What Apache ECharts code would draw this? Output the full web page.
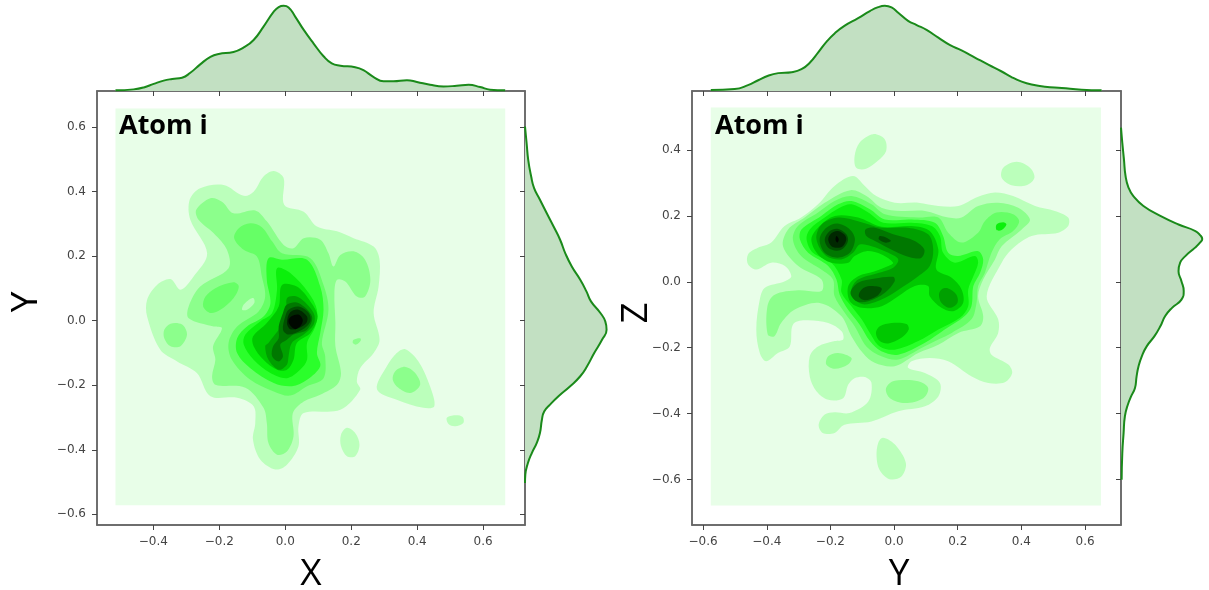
<!DOCTYPE html>
<html><head><meta charset="utf-8">
<style>html,body{margin:0;padding:0;background:#fff}#main{width:1209px;height:590px}</style>
<script src="https://cdn.jsdelivr.net/npm/echarts@6/dist/echarts.min.js"></script>
</head><body><div id="main"></div>
<script>
// Tick labels
const xTicksA=[-0.4,-0.2,0,0.2,0.4,0.6];
const yTicksA=[-0.6,-0.4,-0.2,0,0.2,0.4,0.6];
const xTicksB=[-0.6,-0.4,-0.2,0,0.2,0.4,0.6];
const yTicksB=[-0.6,-0.4,-0.2,0,0.2,0.4];
// Marginal densities
const topA=[[-.515,.02],[-.46,.05],[-.429,.11],[-.399,.22],[-.369,.32],[-.343,.37],[-.313,.41],[-.288,.56],[-.258,.82],[-.227,1.05],[-.202,1.14],[-.157,1.2],[-.126,1.34],[-.096,1.57],[-.066,1.98],[-.035,2.44],[-.02,2.58],[-.005,2.62],[.01,2.57],[.03,2.29],[.056,1.88],[.086,1.46],[.116,1.07],[.141,.85],[.167,.78],[.212,.73],[.237,.64],[.268,.43],[.298,.3],[.328,.3],[.369,.33],[.399,.28],[.439,.19],[.48,.14],[.52,.16],[.556,.19],[.591,.12],[.621,.04],[.667,.02]];
const sideA=[[.602,0],[.55,.05],[.498,.1],[.447,.19],[.411,.28],[.375,.46],[.333,.67],[.292,.88],[.251,1.08],[.209,1.24],[.168,1.44],[.127,1.7],[.091,1.89],[.06,2.03],[.024,2.32],[-.002,2.47],[-.028,2.51],[-.059,2.37],[-.1,2.13],[-.141,1.91],[-.172,1.7],[-.203,1.39],[-.234,1.03],[-.26,.77],[-.281,.59],[-.307,.52],[-.348,.46],[-.379,.36],[-.41,.21],[-.441,.09],[-.477,.01],[-.503,0]];
const topB=[[-.576,.03],[-.501,.06],[-.459,.18],[-.427,.33],[-.396,.47],[-.364,.55],[-.322,.58],[-.291,.67],[-.265,.87],[-.239,1.18],[-.212,1.52],[-.186,1.78],[-.155,2.01],[-.113,2.24],[-.076,2.46],[-.05,2.58],[-.029,2.62],[-.008,2.57],[.013,2.41],[.044,2.16],[.071,2.03],[.102,1.88],[.139,1.64],[.176,1.41],[.212,1.25],[.254,1.03],[.296,.81],[.338,.6],[.369,.43],[.401,.29],[.432,.2],[.474,.13],[.527,.09],[.589,.04],[.652,.02]];
const sideB=[[.468,0],[.422,.04],[.372,.09],[.321,.14],[.286,.23],[.26,.38],[.23,.69],[.2,1.21],[.174,1.77],[.154,2.29],[.141,2.44],[.13,2.5],[.119,2.43],[.103,2.27],[.078,1.98],[.058,1.82],[.032,1.77],[.002,1.86],[-.028,1.93],[-.054,1.86],[-.079,1.57],[-.104,1.36],[-.135,1.21],[-.165,1.03],[-.196,.79],[-.226,.64],[-.256,.54],[-.287,.48],[-.322,.43],[-.348,.31],[-.373,.21],[-.408,.12],[-.459,.08],[-.52,.04],[-.601,.02]];
// Density field extents
const extentA=[[-.515,.658],[.667,.658],[.667,-.572],[-.515,-.572]];
const extentB=[[-.576,.529],[.65,.529],[.65,-.679],[-.576,-.679]];
// Panel A (X, Y) contour bands
const a1main=[[-.035,.464],[-.005,.442],[-.003,.359],[.056,.338],[.096,.292],[.157,.277],[.207,.256],[.268,.23],[.286,.189],[.283,.106],[.268,.024],[.286,-.059],[.268,-.1],[.227,-.147],[.217,-.188],[.227,-.214],[.167,-.276],[.056,-.286],[.04,-.327],[.04,-.389],[.005,-.446],[-.03,-.461],[-.076,-.43],[-.098,-.368],[-.091,-.317],[-.096,-.265],[-.146,-.239],[-.227,-.234],[-.268,-.162],[-.328,-.126],[-.379,-.09],[-.419,.013],[-.419,.065],[-.389,.111],[-.348,.129],[-.318,.096],[-.278,.137],[-.237,.209],[-.288,.313],[-.29,.375],[-.258,.411],[-.187,.421],[-.126,.387],[-.096,.4],[-.066,.447]];
const a1tri=[[.364,-.088],[.404,-.126],[.439,-.203],[.452,-.265],[.419,-.27],[.338,-.245],[.278,-.212],[.308,-.141],[.338,-.1]];
const a1small=[[.49,-.301],[.515,-.293],[.538,-.298],[.54,-.317],[.515,-.327],[.495,-.32]];
const a1low=[[.187,-.332],[.212,-.348],[.225,-.384],[.212,-.42],[.187,-.42],[.169,-.389],[.169,-.353]];
const a2main=[[-.227,.38],[-.192,.369],[-.157,.333],[-.091,.342],[-.056,.308],[-.005,.235],[.025,.225],[.056,.256],[.106,.251],[.131,.209],[.146,.168],[.167,.204],[.207,.215],[.242,.189],[.258,.127],[.242,.075],[.217,.075],[.182,.122],[.157,.127],[.149,.086],[.152,-.007],[.152,-.079],[.169,-.162],[.157,-.198],[.106,-.229],[.056,-.25],[.023,-.286],[.025,-.358],[.005,-.405],[-.025,-.415],[-.051,-.379],[-.056,-.317],[-.066,-.27],[-.121,-.208],[-.212,-.198],[-.222,-.172],[-.212,-.121],[-.219,-.079],[-.192,-.023],[-.217,-.018],[-.293,.008],[-.293,.044],[-.258,.106],[-.172,.163],[-.177,.22],[-.217,.271],[-.263,.313],[-.27,.344]];
const a2left=[[-.348,-.009],[-.313,-.012],[-.298,-.043],[-.318,-.079],[-.348,-.079],[-.367,-.054],[-.367,-.028]];
const a2small=[[.207,-.059],[.227,-.054],[.229,-.061],[.215,-.074],[.205,-.069]];
const a2tri=[[.364,-.143],[.394,-.162],[.409,-.198],[.379,-.224],[.343,-.208],[.326,-.183],[.333,-.157]];
const a1hole=[[-.096,.07],[-.094,.055],[-.116,.034],[-.131,.034],[-.126,.05],[-.108,.067]];
const a3main=[[-.106,.302],[-.071,.29],[-.04,.246],[-.01,.209],[.076,.194],[.116,.111],[.131,.034],[.111,-.069],[.121,-.11],[.116,-.178],[.066,-.203],[.015,-.232],[-.035,-.219],[-.106,-.183],[-.162,-.121],[-.172,-.069],[-.146,-.018],[-.081,.029],[-.061,.075],[-.071,.137],[-.086,.199],[-.126,.22],[-.155,.256],[-.141,.287]];
const a3blob=[[-.157,.119],[-.141,.106],[-.157,.07],[-.197,.034],[-.227,.024],[-.249,.044],[-.242,.075],[-.212,.101]];
const a4=[[-.051,.194],[-.01,.189],[.066,.189],[.106,.106],[.116,.034],[.106,-.038],[.096,-.1],[.106,-.141],[.066,-.183],[.02,-.203],[-.035,-.193],[-.106,-.147],[-.146,-.1],[-.146,-.054],[-.116,-.018],[-.066,.013],[-.045,.055],[-.056,.127]];
const a5=[[-.025,.163],[.015,.148],[.071,.086],[.096,.034],[.091,-.018],[.066,-.069],[.066,-.121],[.045,-.152],[.005,-.178],[-.045,-.162],[-.096,-.121],[-.126,-.074],[-.121,-.043],[-.076,-.002],[-.04,.024],[-.025,.096]];
const a6=[[-.01,.111],[.035,.106],[.076,.06],[.098,.013],[.076,-.038],[.035,-.069],[.025,-.121],[.005,-.152],[-.025,-.152],[-.066,-.121],[-.096,-.079],[-.098,-.049],[-.056,-.007],[-.02,.044]];
const a7=[[.005,.07],[.04,.073],[.086,.024],[.086,-.012],[.056,-.043],[.02,-.069],[.01,-.11],[.005,-.136],[-.02,-.152],[-.051,-.121],[-.061,-.079],[-.051,-.069],[.005,.013]];
const a8=[[.005,.05],[.04,.055],[.081,.013],[.066,-.028],[.025,-.043],[.005,-.059],[-.015,-.074],[-.007,-.11],[-.02,-.126],[-.04,-.11],[-.037,-.079],[-.02,-.054],[-.02,-.018],[-.007,.024]];
const a9=[[.01,.034],[.04,.044],[.071,.024],[.076,-.002],[.051,-.028],[.01,-.043],[-.007,-.028],[0,.013]];
const a10=[[.015,.026],[.04,.034],[.066,.013],[.064,-.007],[.04,-.023],[.015,-.026],[.005,-.007]];
const a11=[[.02,.015],[.04,.019],[.053,.003],[.047,-.015],[.03,-.026],[.013,-.012],[.01,.003]];
// Panel B (Y, Z) contour bands
const b1top=[[-.066,.448],[-.03,.433],[-.025,.397],[-.051,.367],[-.088,.343],[-.119,.346],[-.124,.382],[-.108,.423]];
const b1right=[[.385,.364],[.427,.346],[.441,.316],[.416,.293],[.369,.293],[.338,.316],[.343,.346]];
const b1bottom=[[-.035,-.473],[.002,-.493],[.037,-.55],[.023,-.591],[-.014,-.599],[-.046,-.57],[-.055,-.53],[-.05,-.489]];
const b1main=[[-.129,.321],[-.092,.291],[-.056,.26],[.002,.24],[.076,.24],[.139,.23],[.202,.23],[.264,.258],[.317,.271],[.374,.26],[.443,.23],[.505,.215],[.547,.195],[.547,.169],[.516,.149],[.432,.139],[.369,.098],[.338,.058],[.291,-.044],[.327,-.114],[.327,-.155],[.301,-.201],[.306,-.221],[.359,-.251],[.371,-.277],[.348,-.305],[.296,-.307],[.244,-.287],[.17,-.241],[.112,-.231],[.055,-.241],[.044,-.261],[.097,-.277],[.144,-.307],[.139,-.348],[.097,-.378],[.013,-.393],[-.071,-.424],[-.156,-.434],[-.187,-.459],[-.224,-.459],[-.237,-.434],[-.218,-.403],[-.187,-.396],[-.14,-.398],[-.081,-.363],[-.071,-.307],[-.092,-.289],[-.123,-.292],[-.144,-.312],[-.16,-.353],[-.207,-.358],[-.244,-.332],[-.265,-.287],[-.265,-.226],[-.239,-.196],[-.186,-.18],[-.16,-.175],[-.165,-.15],[-.207,-.125],[-.281,-.117],[-.318,-.13],[-.328,-.196],[-.365,-.216],[-.402,-.241],[-.422,-.216],[-.433,-.145],[-.422,-.054],[-.406,-.018],[-.343,.002],[-.323,.017],[-.343,.048],[-.386,.058],[-.433,.037],[-.459,.053],[-.459,.083],[-.428,.103],[-.386,.119],[-.344,.169],[-.292,.195],[-.239,.235],[-.187,.291]];
const b2main=[[-.137,.278],[-.087,.26],[-.04,.225],[.023,.215],[.097,.215],[.17,.195],[.212,.195],[.264,.23],[.327,.24],[.39,.225],[.427,.189],[.401,.159],[.338,.108],[.317,.068],[.28,.007],[.264,-.044],[.28,-.104],[.27,-.135],[.202,-.155],[.139,-.191],[.076,-.216],[.002,-.256],[-.061,-.246],[-.098,-.216],[-.134,-.165],[-.166,-.104],[-.234,-.064],[-.312,-.084],[-.355,-.125],[-.376,-.165],[-.397,-.16],[-.398,-.074],[-.375,-.039],[-.301,-.026],[-.228,-.028],[-.228,.007],[-.301,.048],[-.349,.108],[-.333,.159],[-.281,.195],[-.218,.24]];
const b2left=[[-.176,-.216],[-.134,-.231],[-.145,-.251],[-.186,-.264],[-.213,-.251],[-.207,-.226]];
const b2low=[[.013,-.299],[.076,-.302],[.107,-.322],[.092,-.353],[.034,-.368],[-.013,-.353],[-.026,-.327],[-.013,-.307]];
const b3=[[-.134,.26],[-.071,.235],[-.029,.205],[.076,.195],[.139,.195],[.17,.149],[.212,.119],[.264,.149],[.285,.184],[.322,.21],[.374,.205],[.393,.184],[.374,.154],[.332,.129],[.306,.088],[.285,.027],[.264,-.013],[.259,-.064],[.243,-.114],[.181,-.155],[.139,-.175],[.086,-.201],[.013,-.236],[-.04,-.226],[-.087,-.196],[-.124,-.135],[-.155,-.094],[-.187,-.044],[-.192,.007],[-.229,.037],[-.292,.078],[-.318,.129],[-.302,.169],[-.239,.21],[-.187,.245]];
const b4=[[-.134,.245],[-.076,.22],[-.029,.189],[.055,.189],[.128,.179],[.154,.139],[.17,.088],[.201,.078],[.264,.093],[.28,.068],[.27,.027],[.249,-.013],[.243,-.074],[.222,-.104],[.159,-.145],[.097,-.185],[.013,-.221],[-.04,-.211],[-.076,-.18],[-.108,-.13],[-.145,-.084],[-.171,-.039],[-.181,.007],[-.207,.048],[-.27,.088],[-.296,.129],[-.291,.159],[-.229,.2],[-.176,.235]];
const b5=[[-.134,.235],[-.081,.21],[-.034,.179],[.055,.179],[.118,.169],[.144,.139],[.154,.088],[.191,.058],[.254,.078],[.264,.058],[.249,.017],[.233,-.023],[.233,-.074],[.207,-.109],[.139,-.145],[.076,-.18],[.002,-.206],[-.045,-.196],[-.076,-.155],[-.102,-.114],[-.134,-.074],[-.165,-.033],[-.165,.007],[-.197,.058],[-.255,.088],[-.275,.129],[-.265,.159],[-.218,.195],[-.171,.225]];
const b5wing=[[.322,.174],[.343,.181],[.353,.174],[.338,.157],[.322,.157]];
const b6=[[-.26,.129],[-.234,.169],[-.186,.2],[-.113,.195],[-.04,.167],[.055,.169],[.112,.154],[.139,.098],[.133,.037],[.181,.012],[.212,-.023],[.217,-.064],[.186,-.089],[.149,-.079],[.112,-.044],[.107,-.013],[.065,-.013],[.013,-.044],[-.039,-.074],[-.102,-.079],[-.139,-.059],[-.144,-.013],[-.113,.017],[-.06,.032],[-.018,.048],[-.003,.058],[-.039,.083],[-.087,.093],[-.124,.078],[-.144,.058],[-.197,.058],[-.239,.083]];
const b6low=[[-.008,-.125],[.039,-.128],[.046,-.145],[.023,-.17],[-.018,-.187],[-.045,-.18],[-.057,-.155],[-.045,-.135]];
const b7=[[-.244,.129],[-.228,.174],[-.176,.195],[-.113,.184],[-.039,.164],[.044,.164],[.107,.144],[.123,.098],[.112,.048],[.076,.017],[.023,-.018],[-.029,-.049],[-.092,-.069],[-.123,-.054],[-.134,-.023],[-.113,.007],[-.05,.027],[-.003,.043],[.013,.068],[-.018,.088],[-.071,.108],[-.108,.113],[-.129,.088],[-.166,.068],[-.213,.078]];
const b7right=[[.17,-.02],[.196,-.039],[.199,-.064],[.175,-.079],[.149,-.064],[.141,-.039],[.149,-.023]];
const b8arc=[[-.09,.159],[-.06,.164],[-.003,.144],[.065,.124],[.095,.098],[.086,.073],[.055,.073],[.002,.093],[-.06,.124],[-.087,.139]];
const b8low=[[-.003,.015],[.002,.002],[-.029,-.033],[-.081,-.059],[-.118,-.059],[-.137,-.033],[-.113,-.003],[-.06,.01]];
const b8ring=[[-.178,.177],[-.139,.159],[-.123,.129],[-.139,.088],[-.178,.073],[-.218,.088],[-.234,.129],[-.213,.164]];
const b9arc=[[-.045,.139],[-.024,.134],[-.01,.124],[-.029,.119],[-.048,.129]];
const b9low=[[-.076,-.013],[-.039,-.02],[-.055,-.044],[-.092,-.056],[-.111,-.044],[-.102,-.023]];
const b9ring=[[-.178,.161],[-.15,.144],[-.145,.124],[-.161,.1],[-.181,.094],[-.207,.103],[-.218,.129],[-.202,.154]];
const b10=[[-.178,.154],[-.157,.144],[-.15,.129],[-.161,.108],[-.178,.103],[-.197,.108],[-.207,.129],[-.197,.147]];
const b11=[[-.181,.139],[-.174,.129],[-.178,.119],[-.184,.127]];

const bands=['#E8FEE8','#BBFFBB','#8CFF8C','#66FF66','#2BFF2B','#0BF00B','#00C800','#00A000','#007800','#005000','#002800','#000800'];
const layersA=[[a1main,1],[a1tri,1],[a1small,1],[a1low,1],[a2main,2],[a2left,2],[a2small,2],[a2tri,2],[a1hole,1],[a3main,3],[a3blob,3],[a4,4],[a5,5],[a6,6],[a7,7],[a8,8],[a9,9],[a10,10],[a11,11]];
const layersB=[[b1top,1],[b1right,1],[b1bottom,1],[b1main,1],[b2main,2],[b2left,2],[b2low,2],[b3,3],[b4,4],[b5,5],[b5wing,5],[b6,6],[b6low,6],[b7,7],[b7right,7],[b8arc,8],[b8low,8],[b8ring,8],[b9arc,9],[b9low,9],[b9ring,9],[b10,10],[b11,11]];

const fieldSeries=(extent,layers,idx)=>({type:'custom',xAxisIndex:idx,yAxisIndex:idx,silent:true,clip:true,animation:false,data:[[0,0]],
  renderItem:(p,api)=>({type:'group',children:[
    {type:'polygon',shape:{points:extent.map(q=>api.coord(q))},style:{fill:bands[0]}},
    ...layers.map(l=>({type:'polygon',shape:{points:l[0].map(q=>api.coord(q)),smooth:0.33},style:{fill:bands[l[1]]}}))
  ]})});
const fill='#C2E0C2',stroke='#1A8A1A';
const closeTop=c=>[[c[0][0],0],...c,[c[c.length-1][0],0]];
const closeSide=c=>[[0,c[0][0]],...c.map(q=>[q[1],q[0]]),[0,c[c.length-1][0]]];
const areaSeries=(pts,idx)=>({type:'custom',xAxisIndex:idx,yAxisIndex:idx,silent:true,animation:false,data:[[0,0]],
  renderItem:(p,api)=>({type:'polygon',shape:{points:pts.map(q=>api.coord(q))},style:{fill}})});
const lineSeries=(pts,idx)=>({type:'line',xAxisIndex:idx,yAxisIndex:idx,data:pts,smooth:0.5,showSymbol:false,silent:true,animation:false,lineStyle:{color:stroke,width:2},z:5});

const tickFmt=v=>{const s=Math.abs(v).toFixed(1);return (v<-1e-9?'\u2212':'')+s;};
const axisLabelFor=t=>({customValues:t,formatter:tickFmt,color:'#444',fontFamily:'DejaVu Sans',fontSize:12,margin:11});
const tickFor=t=>({show:true,customValues:t,length:5,lineStyle:{color:'#444',width:1}});
const lineFor={show:true,onZero:false,lineStyle:{color:'#666',width:1.5}};
const mainAxis=(min,max,t,g)=>({type:'value',gridIndex:g,min,max,splitLine:{show:false},axisLine:lineFor,axisTick:tickFor(t),axisLabel:axisLabelFor(t)});
const margAxis=(min,max,t,g)=>({type:'value',gridIndex:g,min,max,splitLine:{show:false},axisLine:lineFor,axisTick:tickFor(t),axisLabel:{show:false}});
const hidden=(g)=>({type:'value',gridIndex:g,min:0,max:2.8,show:false,splitLine:{show:false}});

const ax={min:-.571,max:.727},ay={min:-.633,max:.712},bx={min:-.635,max:.713},by={min:-.738,max:.579};
const option={
  backgroundColor:'#fff',animation:false,
  grid:[
    {left:97,top:91,width:428,height:434,show:true,borderColor:'#666',borderWidth:1.5,backgroundColor:'#fff'},
    {left:97,top:0,width:428,height:91},
    {left:525,top:91,width:91,height:434},
    {left:692,top:91,width:429,height:434,show:true,borderColor:'#666',borderWidth:1.5,backgroundColor:'#fff'},
    {left:692,top:0,width:429,height:91},
    {left:1121,top:91,width:88,height:434}
  ],
  xAxis:[mainAxis(ax.min,ax.max,xTicksA,0),margAxis(ax.min,ax.max,xTicksA,1),hidden(2),mainAxis(bx.min,bx.max,xTicksB,3),margAxis(bx.min,bx.max,xTicksB,4),Object.assign(hidden(5),{max:88/32.5})],
  yAxis:[mainAxis(ay.min,ay.max,yTicksA,0),hidden(1),margAxis(ay.min,ay.max,yTicksA,2),mainAxis(by.min,by.max,yTicksB,3),hidden(4),margAxis(by.min,by.max,yTicksB,5)],
  series:[
    fieldSeries(extentA,layersA,0),
    areaSeries(closeTop(topA),1),lineSeries(topA,1),
    areaSeries(closeSide(sideA),2),lineSeries(sideA.map(q=>[q[1],q[0]]),2),
    fieldSeries(extentB,layersB,3),
    areaSeries(closeTop(topB),4),lineSeries(topB,4),
    areaSeries(closeSide(sideB),5),lineSeries(sideB.map(q=>[q[1],q[0]]),5)
  ],
  graphic:[
    {type:'text',x:119,y:126,z:100,style:{text:'Atom i',fontFamily:'Open Sans',fontWeight:700,fontSize:27,fill:'#000',verticalAlign:'middle'}},
    {type:'text',x:715,y:126,z:100,style:{text:'Atom i',fontFamily:'Open Sans',fontWeight:700,fontSize:27,fill:'#000',verticalAlign:'middle'}},
    {type:'text',x:311,y:574,z:100,style:{text:'X',fontFamily:'Open Sans',fontSize:37,fill:'#000',align:'center',verticalAlign:'middle'}},
    {type:'text',x:899,y:574,z:100,style:{text:'Y',fontFamily:'Open Sans',fontSize:37,fill:'#000',align:'center',verticalAlign:'middle'}},
    {type:'text',x:26,y:302,rotation:Math.PI/2,z:100,style:{text:'Y',fontFamily:'Open Sans',fontSize:37,fill:'#000',align:'center',verticalAlign:'middle'}},
    {type:'text',x:636,y:313,rotation:Math.PI/2,z:100,style:{text:'Z',fontFamily:'Open Sans',fontSize:37,fill:'#000',align:'center',verticalAlign:'middle'}}
  ]
};
echarts.init(document.getElementById('main'),null,{renderer:'canvas'}).setOption(option);
</script></body></html>
